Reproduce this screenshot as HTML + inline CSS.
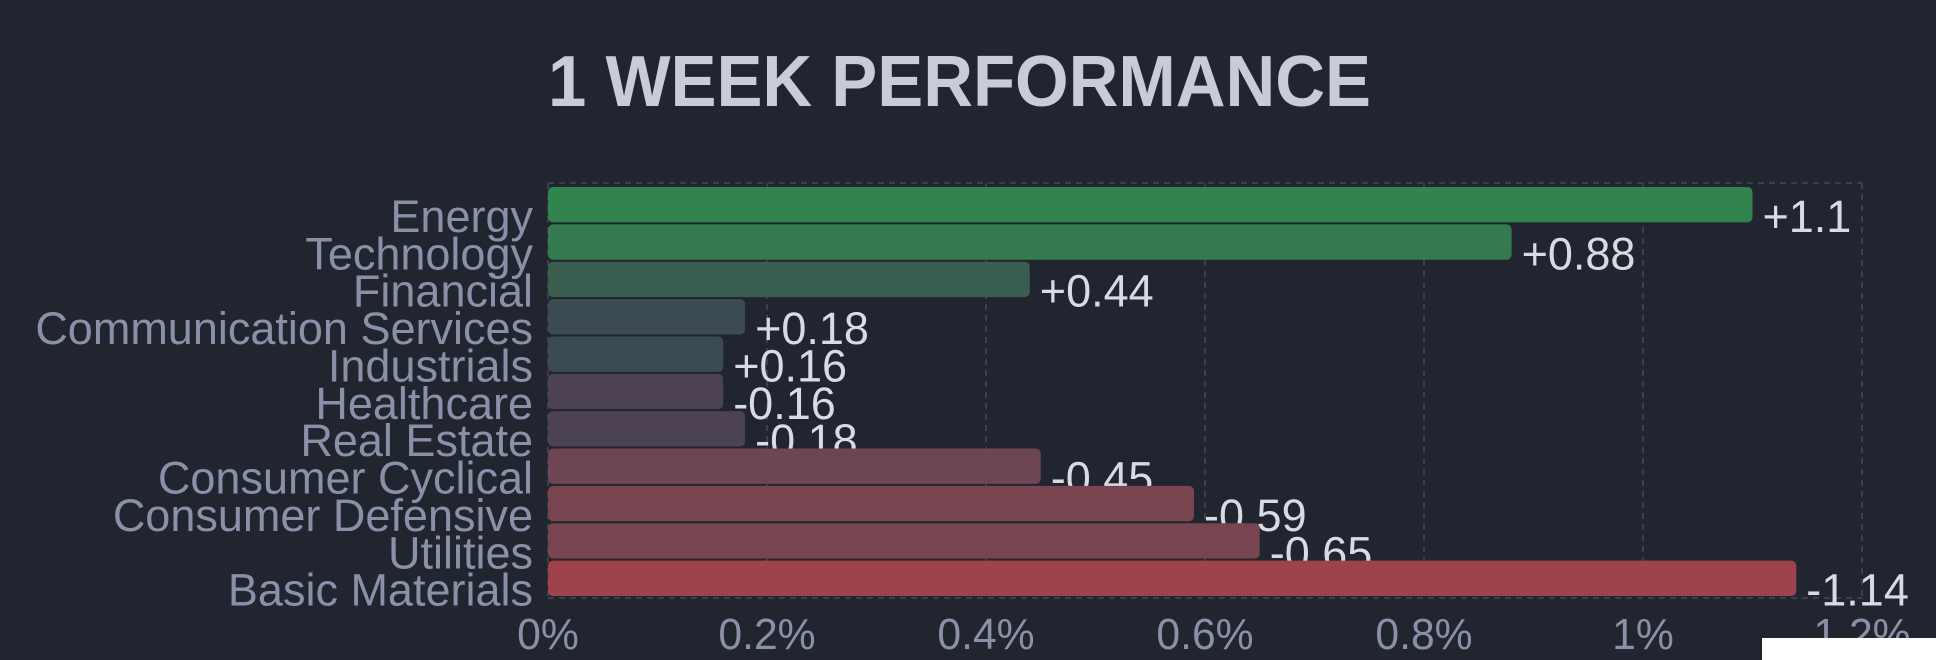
<!DOCTYPE html>
<html><head><meta charset="utf-8"><style>
html,body{margin:0;padding:0;background:#21252f;}
svg{display:block;font-family:"Liberation Sans",sans-serif;}
</style></head><body>
<svg id="chart" width="1936" height="660" viewBox="0 0 1936 660" xmlns="http://www.w3.org/2000/svg">
<rect width="1936" height="660" fill="#21252f"/>
<text x="548" y="106" font-size="72" font-weight="bold" fill="#c9cbd7" textLength="823" lengthAdjust="spacingAndGlyphs">1 WEEK PERFORMANCE</text>
<g id="grid"></g><g id="vals"></g><g id="bars"></g><g id="cats"></g><g id="ticks"></g>
<rect x="1762" y="638" width="174" height="22" fill="#ffffff"/>
</svg>
<script>
const categories = ["Energy","Technology","Financial","Communication Services","Industrials","Healthcare","Real Estate","Consumer Cyclical","Consumer Defensive","Utilities","Basic Materials"];
const values = [1.1,0.88,0.44,0.18,0.16,-0.16,-0.18,-0.45,-0.59,-0.65,-1.14];
const tickValues = [0,0.2,0.4,0.6,0.8,1,1.2];
const tickLabels = ["0%","0.2%","0.4%","0.6%","0.8%","1%","1.2%"];
const barColors = ["#31844e","#347a4f","#3a5e4f","#3c4b53","#3c4b53","#4d4253","#4d4253","#6e4552","#77444f","#774550","#9e434b"];

const NS = "http://www.w3.org/2000/svg";
const x0 = 548, x1 = 1862, plotTop = 183, plotBottom = 598;
const rowH = (plotBottom - plotTop - 4) / categories.length;
function xScale(v){ return x0 + (v / 1.2) * (x1 - x0); }
function yRow(i){ return plotTop + 4 + i * rowH; }
function mk(tag, attrs, parent){ const e = document.createElementNS(NS, tag); for (const k in attrs) e.setAttribute(k, attrs[k]); parent.appendChild(e); return e; }
function charW(ch){ return ch === '.' ? 0.278 : ch === '%' ? 0.889 : 0.556; }

const grid = document.getElementById('grid');
[plotTop, plotBottom].forEach((y, j) => {
  const l = mk('line', {x1:x0, x2:x1, y1:y, y2:y, stroke:'#3b404d', 'stroke-width':2, 'stroke-dasharray':'6 5'}, grid);
  
  
});
tickValues.forEach((t, i) => {
  const x = xScale(t);
  const l = mk('line', {x1:x, x2:x, y1:plotTop, y2:plotBottom, stroke:'#3b404d', 'stroke-width':2, 'stroke-dasharray':'6 5'}, grid);
  
  
  let w = 0;
  for (const ch of tickLabels[i]) w += charW(ch);
  const tx = mk('text', {x:x, y:649, 'font-size':44, fill:'#8a90a8', 'text-anchor':'middle', textLength:(w * 44 * 0.97).toFixed(1), lengthAdjust:'spacingAndGlyphs'}, document.getElementById('ticks'));
  tx.textContent = tickLabels[i];
  
  
});

categories.forEach((c, i) => {
  const v = values[i];
  const w = xScale(Math.abs(v)) - x0;
  const y = yRow(i);
  const vt = mk('text', {x:x0 + w + 10, y:y + 45, 'font-size':45, fill:'#d9dbe4'}, document.getElementById('vals'));
  vt.textContent = (v > 0 ? '+' : '') + v;
  
  
  const b = mk('rect', {x:x0, y:y, width:w, height:rowH - 2, rx:5, fill:barColors[i]}, document.getElementById('bars'));
  
  
  const ct = mk('text', {x:533, y:y + 45, 'font-size':45, fill:'#8a90a8', 'text-anchor':'end'}, document.getElementById('cats'));
  ct.textContent = c;
  
  
});
</script>
</body></html>
